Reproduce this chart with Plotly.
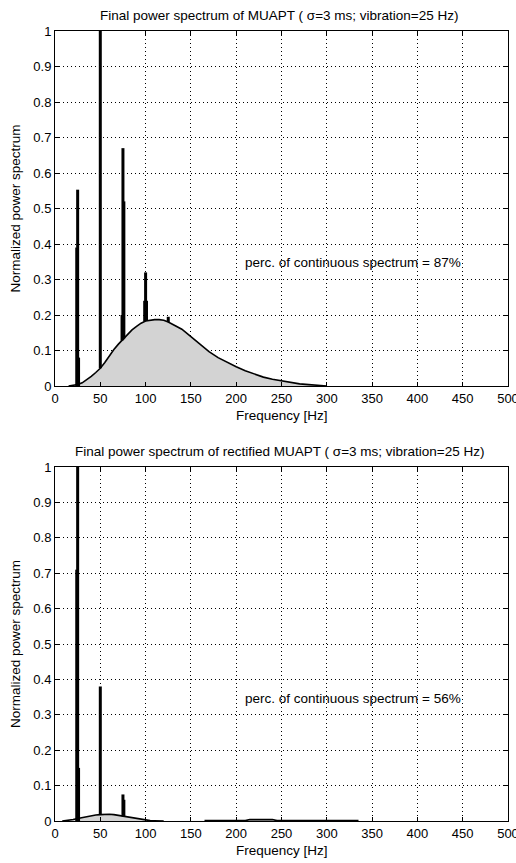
import plotly.graph_objects as go

# ---------------- data ----------------
# Top panel: continuous spectrum of MUAPT
top_cont_f = [15, 20, 25, 30, 35, 40, 45, 50, 55, 60, 65, 70, 75, 80, 85, 90, 95, 100, 105, 110,
              115, 120, 125, 130, 140, 150, 160, 170, 180, 190, 200, 210, 220, 230, 240, 250,
              260, 270, 280, 290, 300]
top_cont_p = [0.0, 0.001, 0.004, 0.009, 0.017, 0.027, 0.038, 0.050, 0.066, 0.085, 0.103, 0.118,
              0.131, 0.145, 0.158, 0.168, 0.177, 0.183, 0.186, 0.187, 0.187, 0.185, 0.180,
              0.174, 0.160, 0.139, 0.117, 0.097, 0.080, 0.066, 0.054, 0.043, 0.033, 0.025,
              0.019, 0.014, 0.010, 0.006, 0.004, 0.002, 0.0]
# Top panel: spectral lines (harmonics of 25 Hz) with their base on the continuous part
top_line_f = [24, 25, 26, 50, 74, 75, 76, 99, 100, 101, 125]
top_line_p = [0.39, 0.553, 0.08, 1.0, 0.20, 0.67, 0.52, 0.24, 0.32, 0.24, 0.195]
top_line_base = [0.0, 0.0, 0.0, 0.05, 0.128, 0.131, 0.134, 0.182, 0.183, 0.183, 0.180]

# Bottom panel: continuous spectrum of rectified MUAPT
bot_cont_f = [8, 15, 20, 25, 30, 35, 40, 45, 50, 55, 60, 65, 70, 75, 80, 85, 90, 95, 100, 105,
              110, 120, None, 165, 210, 215, 240, 245, 335]
bot_cont_p = [0.0, 0.002, 0.004, 0.007, 0.010, 0.013, 0.015, 0.017, 0.018, 0.019, 0.019, 0.018,
              0.016, 0.013, 0.011, 0.008, 0.006, 0.004, 0.002, 0.001, 0.0005, 0.0, None,
              0.001, 0.001, 0.004, 0.004, 0.001, 0.001]
bot_line_f = [24, 25, 26, 50, 75, 76]
bot_line_p = [0.71, 1.0, 0.15, 0.38, 0.075, 0.06]
bot_line_base = [0.0, 0.0, 0.0, 0.018, 0.013, 0.012]

x_ticks = [0, 50, 100, 150, 200, 250, 300, 350, 400, 450, 500]
y_ticks = [0, 0.1, 0.2, 0.3, 0.4, 0.5, 0.6, 0.7, 0.8, 0.9, 1]

titles = ["Final power spectrum of MUAPT ( σ=3 ms; vibration=25 Hz)",
          "Final power spectrum of rectified MUAPT ( σ=3 ms; vibration=25 Hz)"]
perc_texts = ["perc. of continuous spectrum = 87%", "perc. of continuous spectrum = 56%"]
perc_pos = [(207, 0.347), (207, 0.345)]

# ---------------- figure ----------------
FONT = "Liberation Sans, Arial, sans-serif"
W, H = 516, 863
ML, MR, MT, MB = 55, 8, 31, 42
plot_h = H - MT - MB

fig = go.Figure()


def spikes(fs, ps, bs):
    xs, ys = [], []
    for f, p, b in zip(fs, ps, bs):
        xs += [f, f, None]
        ys += [b, p, None]
    return xs, ys


panels = [
    (top_cont_f, top_cont_p, top_line_f, top_line_p, top_line_base, "x", "y"),
    (bot_cont_f, bot_cont_p, bot_line_f, bot_line_p, bot_line_base, "x2", "y2"),
]
for cf, cp, lf, lp, lb, xa, ya in panels:
    fig.add_trace(go.Scatter(x=cf, y=cp, mode="lines", fill="tozeroy",
                             fillcolor="#d3d3d3", line=dict(color="black", width=1.6),
                             xaxis=xa, yaxis=ya, showlegend=False, hoverinfo="skip",
                             connectgaps=False))
    sx, sy = spikes(lf, lp, lb)
    fig.add_trace(go.Scatter(x=sx, y=sy, mode="lines",
                             line=dict(color="black", width=3),
                             xaxis=xa, yaxis=ya, showlegend=False, hoverinfo="skip"))


def py(px):
    return (H - MB - px) / plot_h


top_dom = [py(386), py(31)]
bot_dom = [py(821), py(467)]

axis_common = dict(showline=True, linecolor="black", linewidth=1, mirror="ticks",
                   ticks="inside", ticklen=4, tickcolor="black", showgrid=True,
                   gridcolor="black", griddash="1px,3px", gridwidth=1, zeroline=False,
                   ticklabeloverflow="allow",
                   tickfont=dict(family=FONT, size=13, color="black"))

fig.update_layout(
    width=W, height=H,
    margin=dict(l=ML, r=MR, t=MT, b=MB, autoexpand=False),
    paper_bgcolor="white", plot_bgcolor="white",
    font=dict(family=FONT, size=13, color="black"),
    xaxis=dict(range=[0, 500], tickvals=x_ticks, anchor="y", domain=[0, 1], **axis_common),
    yaxis=dict(range=[0, 1], tickvals=y_ticks, anchor="x", domain=top_dom, **axis_common),
    xaxis2=dict(range=[0, 500], tickvals=x_ticks, anchor="y2", domain=[0, 1], **axis_common),
    yaxis2=dict(range=[0, 1], tickvals=y_ticks, anchor="x2", domain=bot_dom, **axis_common),
)

anns = []
for i, (xa, ya) in enumerate([("x", "y"), ("x2", "y2")]):
    top_px = 31 if i == 0 else 467
    bot_px = 386 if i == 0 else 821
    anns.append(dict(text=titles[i], xref="paper", yref="paper", x=0.495, y=py(top_px - 15),
                     xanchor="center", yanchor="middle", showarrow=False,
                     font=dict(family=FONT, size=13.5)))
    anns.append(dict(text="Frequency [Hz]", xref="paper", yref="paper", x=0.5,
                     y=py(bot_px + 29), xanchor="center", yanchor="middle", showarrow=False,
                     font=dict(family=FONT, size=13.5)))
    anns.append(dict(text="Normalized power spectrum", xref="paper", yref="paper",
                     x=(15 - ML) / (W - ML - MR), y=py((top_px + bot_px) / 2),
                     xanchor="center", yanchor="middle", textangle=-90, showarrow=False,
                     font=dict(family=FONT, size=13.5)))
    anns.append(dict(text=perc_texts[i], xref=xa, yref=ya, x=perc_pos[i][0], y=perc_pos[i][1],
                     xanchor="left", yanchor="middle", showarrow=False,
                     font=dict(family=FONT, size=13.5)))
fig.update_layout(annotations=anns)

fig.write_html("out.html", config={"displayModeBar": False},
               post_script="document.body.style.margin='0';document.body.style.overflow='hidden';")
